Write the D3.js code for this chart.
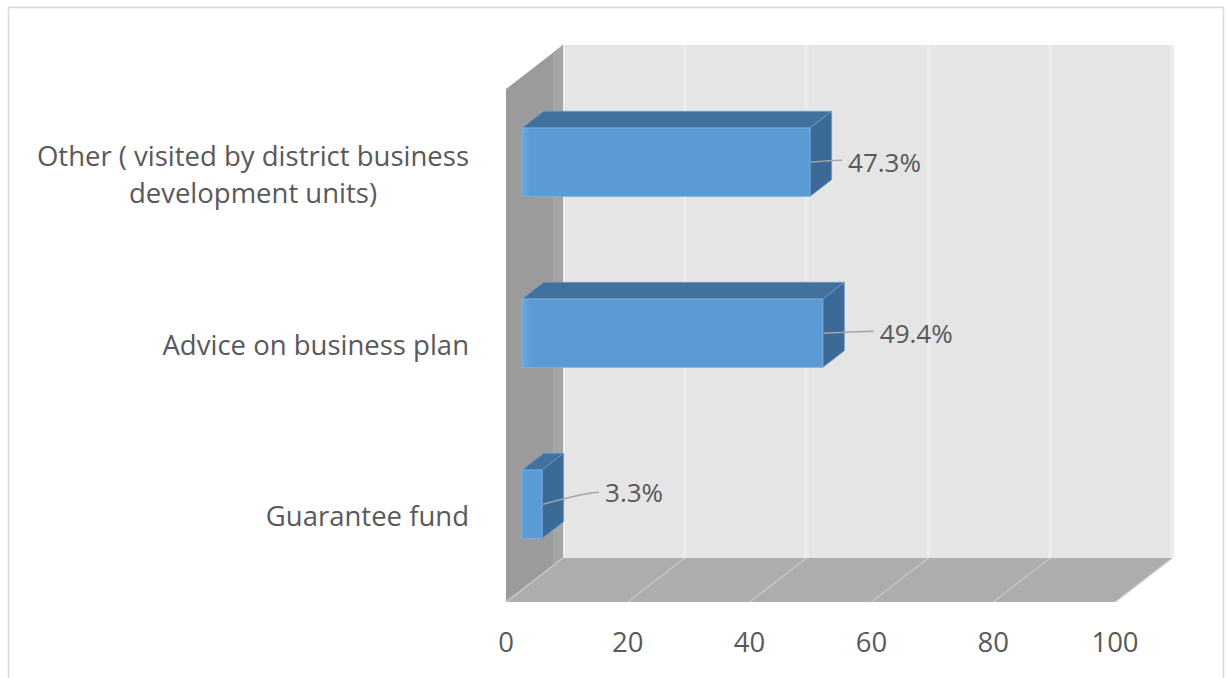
<!DOCTYPE html>
<html>
<head>
<meta charset="utf-8">
<script src="https://cdn.jsdelivr.net/npm/d3@7"></script>
<style>
  html, body { margin: 0; padding: 0; background: #ffffff; }
  svg { display: block; }
  text { font-family: "Open Sans", Lato, sans-serif; fill: #595959; }
</style>
</head>
<body>
<svg id="chart" width="1226" height="678"></svg>
<script>
// Categories, top to bottom
const categories = [
  "Other ( visited by district business development units)",
  "Advice on business plan",
  "Guarantee fund"
];
// Category labels split into display lines
const categoryLines = [
  ["Other ( visited by district business", "development units)"],
  ["Advice on business plan"],
  ["Guarantee fund"]
];
// Share of respondents (%)
const values = [47.3, 49.4, 3.3];
// Value axis ticks
const ticks = [0, 20, 40, 60, 80, 100];

// Label nudges relative to each bar end (pixels)
const labelNudge = [
  { dx: 38, dy: 0 },
  { dx: 57, dy: 0 },
  { dx: 63, dy: -12 }
];

const svg = d3.select("#chart");

// Plot box on the front plane and the oblique depth vector
const frontLeft = 506, frontRight = 1115;
const frontTop = 89, frontBottom = 602;
const DX = 57, DY = -44;
const barT0 = 0.28, barT1 = 0.66;
const fontSize = 27.5;
const labelSize = 26;
const catRight = 469;

const x = d3.scaleLinear().domain([0, 100]).range([frontLeft, frontRight]);
const y = d3.scaleBand().domain(categories).range([frontTop, frontBottom])
  .paddingInner(0.6).paddingOuter(0.3);
const yLabel = d3.scaleBand().domain(categories).range([frontTop, frontBottom]);

// project a (value, screen-y, depth) triple onto the page
const P = (v, py, t) => [x(v) + t * DX, py + t * DY];
const poly = pts => "M" + pts.map(p => p.join(",")).join("L") + "Z";

// Outer chart border
svg.append("rect")
  .attr("x", 8.5).attr("y", 7.5).attr("width", 1215).attr("height", 700)
  .attr("fill", "none").attr("stroke", "#d9d9d9").attr("stroke-width", 1.5);

const walls = svg.append("g");

// Back wall
walls.append("path")
  .attr("d", poly([P(0, frontTop, 1), P(100, frontTop, 1), P(100, frontBottom, 1), P(0, frontBottom, 1)]))
  .attr("fill", "#e5e5e5");

// Back wall gridlines
walls.selectAll(".grid-back").data(ticks).join("line")
  .attr("class", "grid-back")
  .attr("x1", d => P(d, frontTop, 1)[0]).attr("x2", d => P(d, frontBottom, 1)[0])
  .attr("y1", P(0, frontTop, 1)[1]).attr("y2", P(0, frontBottom, 1)[1])
  .attr("stroke", "#ececec").attr("stroke-width", 4);

// Side wall
walls.append("path")
  .attr("d", poly([P(0, frontTop, 0), P(0, frontTop, 1), P(0, frontBottom, 1), P(0, frontBottom, 0)]))
  .attr("fill", "#9b9b9b");
walls.append("path")
  .attr("d", poly([P(0, frontTop, 0.82), P(0, frontTop, 1), P(0, frontBottom, 1), P(0, frontBottom, 0.82)]))
  .attr("fill", "#a5a5a5");

// Floor
walls.append("path")
  .attr("d", poly([P(0, frontBottom, 0), P(100, frontBottom, 0), P(100, frontBottom, 1), P(0, frontBottom, 1)]))
  .attr("fill", "#adadad");

// Floor gridlines
walls.selectAll(".grid-floor").data(ticks).join("line")
  .attr("class", "grid-floor")
  .attr("x1", d => P(d, frontBottom, 0)[0]).attr("y1", d => P(d, frontBottom, 0)[1])
  .attr("x2", d => P(d, frontBottom, 1)[0]).attr("y2", d => P(d, frontBottom, 1)[1])
  .attr("stroke", "#c6c6c6").attr("stroke-width", 1.5);

// Bar face shading
const defs = svg.append("defs");
const grad = defs.append("linearGradient").attr("id", "barFront")
  .attr("x1", 0).attr("x2", 1).attr("y1", 0).attr("y2", 0);
grad.append("stop").attr("offset", 0).attr("stop-color", "#6aa9df");
grad.append("stop").attr("offset", 0.03).attr("stop-color", "#5b9bd5");
grad.append("stop").attr("offset", 1).attr("stop-color", "#5b9bd5");

const bars = svg.append("g").selectAll("g").data(categories).join("g");

bars.each(function (c, i) {
  const g = d3.select(this);
  const v = values[i];
  const top = y(c), bot = y(c) + y.bandwidth();
  // top face
  g.append("path")
    .attr("d", poly([P(0, top, barT0), P(v, top, barT0), P(v, top, barT1), P(0, top, barT1)]))
    .attr("fill", "#41719c").attr("stroke", "#6fa6d8").attr("stroke-width", 0.6);
  // right face
  g.append("path")
    .attr("d", poly([P(v, top, barT0), P(v, top, barT1), P(v, bot, barT1), P(v, bot, barT0)]))
    .attr("fill", "#3b6a97").attr("stroke", "#6fa6d8").attr("stroke-width", 0.6);
  // front face
  g.append("path")
    .attr("d", poly([P(0, top, barT0), P(v, top, barT0), P(v, bot, barT0), P(0, bot, barT0)]))
    .attr("fill", "url(#barFront)").attr("stroke", "#7db3e3").attr("stroke-width", 0.8);
});

// Data labels with leader lines
const labels = svg.append("g").selectAll("g").data(categories).join("g");
labels.each(function (c, i) {
  const g = d3.select(this);
  const v = values[i];
  const mid = y(c) + y.bandwidth() / 2;
  const [ex, ey] = P(v, mid, barT0);
  const n = labelNudge[i];
  const lx = ex + n.dx, ly = ey + n.dy;
  const curve = d3.path();
  curve.moveTo(ex + 1, ey);
  curve.quadraticCurveTo(lx - 18, ly + (n.dy ? 0 : -2), lx - 6, ly - (n.dy ? 0 : 2));
  g.append("path").attr("d", curve.toString())
    .attr("fill", "none").attr("stroke", "#a6a6a6").attr("stroke-width", 1.6);
  g.append("text")
    .attr("x", lx).attr("y", ly)
    .attr("dy", "0.36em")
    .attr("font-size", labelSize)
    .text(v.toFixed(1) + "%");
});

// Category axis labels: right-aligned block, lines centred inside it
const catAxis = svg.append("g");
categoryLines.forEach((lines, i) => {
  const cy = yLabel(categories[i]) + yLabel.bandwidth() / 2;
  const lh = 37;
  const t = catAxis.append("text")
    .attr("text-anchor", "middle")
    .attr("font-size", fontSize);
  const spans = lines.map((ln, k) => t.append("tspan")
    .attr("y", cy + (k - (lines.length - 1) / 2) * lh)
    .attr("dy", "0.36em")
    .text(ln));
  const widest = d3.max(spans, s => s.node().getComputedTextLength());
  spans.forEach(s => s.attr("x", catRight - widest / 2));
});

// Value axis labels
svg.append("g").selectAll("text").data(ticks).join("text")
  .attr("x", d => x(d))
  .attr("y", 652)
  .attr("text-anchor", "middle")
  .attr("font-size", fontSize)
  .text(d => d);
</script>
</body>
</html>
